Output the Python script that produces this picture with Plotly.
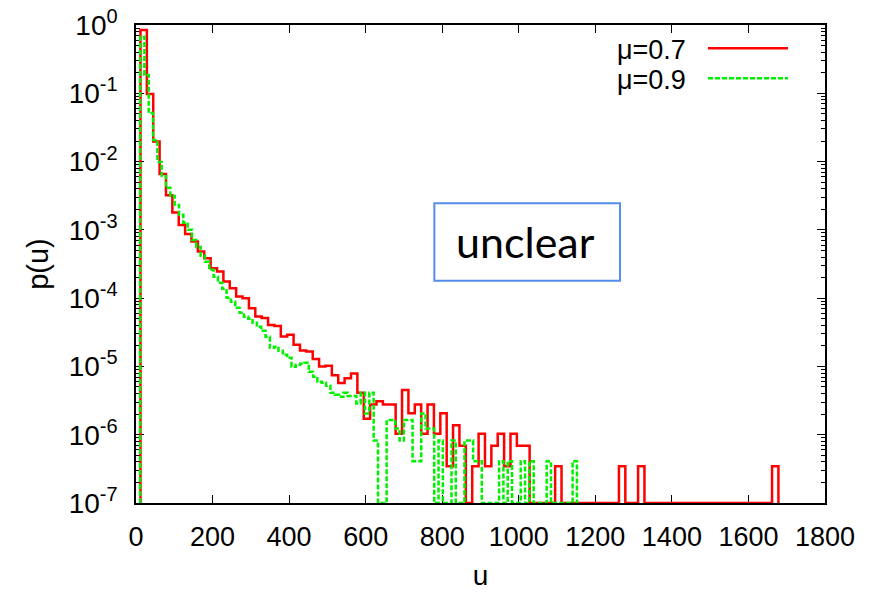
import plotly.graph_objects as go

# ---------------- data ----------------
# mu = 0.7 : histogram, bin width 50/3, first bin edge at 35/3
red_first_edge = 35 / 3
red_bin_width = 50 / 3
red_p = [
    0.845, 0.098, 0.0196, 0.0066, 0.0032, 0.00179, 0.00118, 0.00087, 0.000675, 0.00048,
    0.000385, 0.000275, 0.000245, 0.000175, 0.00014, 0.000106, 0.0001, 7.1e-5, 5.4e-5, 5.1e-5,
    4.05e-5, 3.9e-5, 2.75e-5, 2.9e-5, 2.07e-5, 1.71e-5, 1.66e-5, 1.28e-5, 1.0e-5, 1.02e-5,
    7.4e-6, 5.7e-6, 6.7e-6, 7.9e-6, 4.1e-6, 1.72e-6, 2.76e-6, 3.1e-6, 2.76e-6, 2.76e-6,
    1.03e-6, 4.5e-6, 2.07e-6, 2.76e-6, 1.03e-6, 2.76e-6, 1.03e-6, 2.07e-6, 3.45e-7, 1.38e-6,
    6.9e-7, 0, 3.45e-7, 1.03e-6, 3.45e-7, 6.9e-7, 1.03e-6, 3.45e-7, 1.03e-6, 6.9e-7,
    6.9e-7, 0, 0, 0, 0, 3.45e-7, 0, 0, 0, 0,
    0, 0, 0, 0, 0, 3.45e-7, 0, 0, 3.45e-7, 0,
    0, 0, 0, 0, 0, 0, 0, 0, 0, 0,
    0, 0, 0, 0, 0, 0, 0, 0, 0, 3.45e-7,
]

# mu = 0.9 : histogram, bin width 11.3, first bin edge at 10.65
green_first_edge = 10.65
green_bin_width = 11.3
green_p = [
    0.674, 0.1855, 0.0515, 0.02075, 0.00989, 0.00617, 0.00412, 0.00314, 0.00232, 0.00166,
    0.00127, 0.001, 0.000713, 0.000563, 0.000416, 0.00034, 0.00026, 0.000205, 0.000168, 0.000137,
    0.000101, 8.83e-5, 7.22e-5, 6.1e-5, 5.33e-5, 4.98e-5, 4.35e-5, 3.8e-5, 3.32e-5, 2.72e-5,
    1.87e-5, 1.94e-5, 1.7e-5, 1.48e-5, 1.34e-5, 9.9e-6, 1.06e-5, 1.09e-5, 1.13e-5, 8.35e-6,
    7.05e-6, 5.96e-6, 5.76e-6, 5.21e-6, 4.11e-6, 3.85e-6, 3.6e-6, 4.1e-6, 3.69e-6, 3.69e-6,
    2.87e-6, 4.1e-6, 2.05e-6, 4.1e-6, 8.2e-7, 0, 0, 1.64e-6, 1.64e-6, 1.23e-6,
    8.2e-7, 1.64e-6, 1.64e-6, 4.1e-7, 4.1e-7, 2.05e-6, 1.23e-6, 1.23e-6, 0, 8.2e-7,
    0, 0, 8.2e-7, 0, 0, 8.2e-7, 8.2e-7, 4.1e-7, 4.1e-7, 0,
    0, 0, 0, 4.1e-7, 0, 4.1e-7, 0, 0, 4.1e-7, 0,
    4.1e-7, 0, 0, 0, 4.1e-7, 0, 0, 0, 0, 0,
    4.1e-7,
]

series_names = ["\u03bc=0.7", "\u03bc=0.9"]
x_tick_vals = [0, 200, 400, 600, 800, 1000, 1200, 1400, 1600, 1800]
y_exponents = [-7, -6, -5, -4, -3, -2, -1, 0]
note_text = "unclear"

FLOOR = 1e-7  # empty bins are drawn on the bottom of the log axis


def step_path(first_edge, width, values):
    xs, ys = [first_edge], [FLOOR]
    for i, v in enumerate(values):
        y = v if v > 0 else FLOOR
        xs += [first_edge + i * width, first_edge + (i + 1) * width]
        ys += [y, y]
    xs.append(first_edge + len(values) * width)
    ys.append(FLOOR)
    return xs, ys


rx, ry = step_path(red_first_edge, red_bin_width, red_p)
gx, gy = step_path(green_first_edge, green_bin_width, green_p)

RED = "rgb(255,0,0)"
GREEN = "rgb(0,240,0)"
FONT = "Liberation Sans, Arial, sans-serif"

fig = go.Figure()
fig.add_trace(go.Scatter(x=rx, y=ry, mode="lines", name=series_names[0],
                         line=dict(color=RED, width=2.5), showlegend=False))
fig.add_trace(go.Scatter(x=gx, y=gy, mode="lines", name=series_names[1],
                         line=dict(color=GREEN, width=2.5, dash="5px,2px"), showlegend=False))

minor_vals = [m * 10.0 ** e for e in range(-7, 0) for m in range(2, 10)]

axis_common = dict(showline=True, linecolor="black", linewidth=1.5, mirror="ticks",
                   ticks="inside", ticklen=8, tickwidth=1, tickcolor="black",
                   showgrid=False, zeroline=False, layer="below traces",
                   automargin=False)

fig.update_layout(
    width=882, height=594,
    margin=dict(l=136, r=57, t=25, b=91),
    paper_bgcolor="white", plot_bgcolor="white",
    font=dict(family=FONT, color="black"),
    xaxis=dict(range=[0, 1800], tickvals=x_tick_vals,
               ticktext=[str(v) for v in x_tick_vals],
               ticklabelstandoff=9,
               tickfont=dict(family=FONT, size=27, color="black"),
               title=dict(text="u", font=dict(family=FONT, size=28), standoff=14),
               **axis_common),
    yaxis=dict(type="log", range=[-7, 0],
               tickvals=[10.0 ** e for e in y_exponents],
               ticktext=["10<sup><span style='font-size:20px'>%d</span></sup>" % e
                         for e in y_exponents],
               ticklabelstandoff=11,
               tickfont=dict(family=FONT, size=28, color="black"),
               minor=dict(ticks="inside", ticklen=4, tickwidth=1, tickcolor="black",
                          tickvals=minor_vals, showgrid=False),
               title=dict(text="p(u)", font=dict(family=FONT, size=29), standoff=12),
               **axis_common),
)

# legend drawn gnuplot-style: text right-aligned, line sample to the right
leg_rows = [(0.9478, 0.9513, RED, "solid", 2.5), (0.8850, 0.8886, GREEN, "5px,2px", 2.5)]
for name, (ty, ly, col, dash, w) in zip(series_names, leg_rows):
    fig.add_annotation(x=0.8012, y=ty, xref="paper", yref="paper", text=name,
                       showarrow=False, xanchor="right", yanchor="middle",
                       font=dict(family=FONT, size=27, color="black"))
    fig.add_shape(type="line", xref="paper", yref="paper", x0=0.8302, x1=0.9463,
                  y0=ly, y1=ly, line=dict(color=col, width=w, dash=dash))

# boxed note
fig.add_shape(type="rect", xref="paper", yref="paper", x0=0.433, x1=0.7025,
              y0=0.4648, y1=0.6272, line=dict(color="rgb(84,141,236)", width=2),
              fillcolor="rgba(0,0,0,0)")
fig.add_annotation(x=0.566, y=0.547, xref="paper", yref="paper", text=note_text,
                   showarrow=False, xanchor="center", yanchor="middle",
                   font=dict(family="Lato, Open Sans, sans-serif", size=43, color="black"))

fig.write_html("out.html")
